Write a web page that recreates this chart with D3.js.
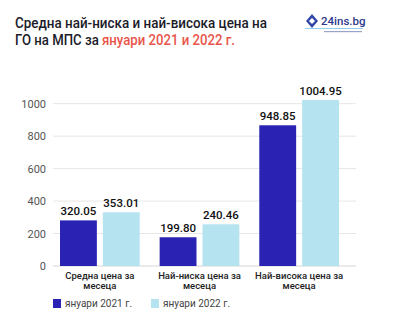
<!DOCTYPE html>
<html><head><meta charset="utf-8">
<script src="https://cdn.jsdelivr.net/npm/d3@7"></script>
<style>body{margin:0;background:#fff;}svg{display:block;font-family:Roboto,sans-serif;}</style>
</head><body>
<script>
const categories = [["Средна цена за","месеца"],["Най-ниска цена за","месеца"],["Най-висока цена за","месеца"]];
const seriesNames = ["януари 2021 г.","януари 2022 г."];
// bar heights as drawn in the picture
const values2021 = [281, 177, 867];
const values2022 = [331, 257, 1023];
// value labels as printed
const labels2021 = ["320.05","199.80","948.85"];
const labels2022 = ["353.01","240.46","1004.95"];
const yTicks = [0,200,400,600,800,1000];
const colors = ["#2a22b3","#b5e3ef"];

const W=396,H=333;
const svg=d3.select("body").append("svg").attr("width",W).attr("height",H);

// title
const t=svg.append("text").attr("x",15).attr("y",28).attr("font-size",14).attr("font-weight",500).attr("fill","#1b1b2a")
 .attr("textLength",252).attr("lengthAdjust","spacingAndGlyphs");
t.text("Средна най-ниска и най-висока цена на");
const t2=svg.append("text").attr("x",15).attr("y",45).attr("font-size",14).attr("font-weight",500).attr("fill","#1b1b2a")
 .attr("textLength",220).attr("lengthAdjust","spacingAndGlyphs");
t2.append("tspan").text("ГО на МПС за ");
t2.append("tspan").attr("fill","#e8544a").text("януари 2021 и 2022 г.");

// logo
const lg=svg.append("g");
lg.append("path").attr("d","M312,14 L318,21 L312,28 L306,21 Z").attr("fill","#3347a8");
lg.append("path").attr("d","M312,18 L315,21 L312,24 L309,21 Z").attr("fill","#ffffff");
lg.append("rect").attr("x",305).attr("y",28).attr("width",58).attr("height",1).attr("fill","#8fd0f0");
lg.append("text").attr("x",321).attr("y",25).attr("font-size",11.5).attr("font-weight",500).attr("fill","#2b3a8c").text("24ins.bg");
lg.append("rect").attr("x",324).attr("y",31).attr("width",38).attr("height",1.2).attr("fill","#9aa3c8");

const y=d3.scaleLinear().domain([0,1000]).range([266,103.7]);
const x0=d3.scaleBand().domain(d3.range(categories.length)).range([60,339]).paddingInner(0.2).paddingOuter(0);
const x1=d3.scaleBand().domain([0,1]).range([0,x0.bandwidth()]).paddingInner(0.14);

// gridlines
svg.append("g").selectAll("line").data(yTicks).join("line")
 .attr("x1",53).attr("x2",356).attr("y1",d=>y(d)).attr("y2",d=>y(d))
 .attr("stroke",d=>d===0?"#d6d6d6":"#e6e6e6").attr("stroke-width",1);
svg.append("g").selectAll("text").data(yTicks).join("text")
 .attr("x",46).attr("y",d=>y(d)+4).attr("text-anchor","end").attr("font-size",11).attr("fill","#555").text(d=>d);

const series=[values2021,values2022];
const labs=[labels2021,labels2022];
series.forEach((vals,s)=>{
  const g=svg.append("g");
  g.selectAll("rect").data(vals).join("rect")
   .attr("x",(d,i)=>x0(i)+x1(s)).attr("width",x1.bandwidth())
   .attr("y",d=>y(d)).attr("height",d=>y(0)-y(d)).attr("fill",colors[s]);
  g.selectAll("text").data(vals).join("text")
   .attr("x",(d,i)=>x0(i)+x1(s)+x1.bandwidth()/2).attr("y",d=>y(d)-5)
   .attr("text-anchor","middle").attr("font-size",11.5).attr("font-weight",500).attr("fill","#111")
   .text((d,i)=>labs[s][i]);
});

// category labels
categories.forEach((c,i)=>{
  const tx=svg.append("text").attr("text-anchor","middle").attr("font-size",9.5).attr("font-weight",500).attr("fill","#222");
  c.forEach((line,k)=>tx.append("tspan").attr("x",x0(i)+x0.bandwidth()/2).attr("y",279+k*10).text(line));
});

// legend
const lx=[53,151];
seriesNames.forEach((n,s)=>{
  svg.append("rect").attr("x",lx[s]).attr("y",299).attr("width",8).attr("height",9).attr("fill",colors[s]);
  svg.append("text").attr("x",lx[s]+12).attr("y",307).attr("font-size",10).attr("fill","#444").text(n);
});
</script>
</body></html>
